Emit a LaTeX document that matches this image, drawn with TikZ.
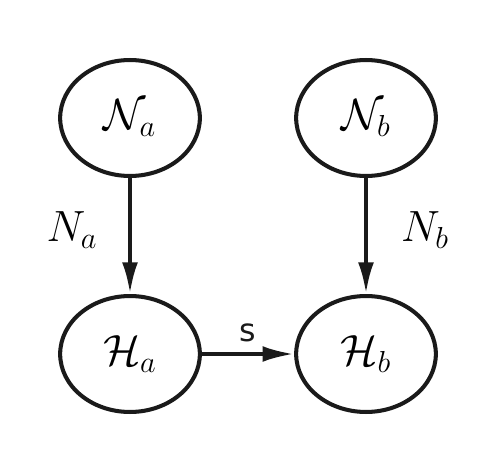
\documentclass[tikz,border=0pt]{standalone}
\usepackage{fontspec}
\usepackage{amsmath}
\usetikzlibrary{arrows.meta}
\usetikzlibrary{shapes.geometric}
\newfontfamily\labelfont{DejaVu Sans}
\definecolor{mygray}{RGB}{26,26,26}

\begin{document}
\begin{tikzpicture}[x=0.02cm,y=-0.02cm,
  state/.style={ellipse, draw=mygray, line width=2.3pt, minimum width=79.5pt, minimum height=66pt, inner sep=0pt, font=\fontsize{25}{30}\selectfont},
  edge/.style={draw=mygray, line width=2.3pt, -{Latex[length=18pt,width=9pt]}},
  lbl/.style={font=\fontsize{25}{30}\selectfont}]
\useasboundingbox (0,0) rectangle (497,473);

% states
\node[state] (Na) at (130,118) {$\mathcal{N}_a$};
\node[state] (Nb) at (366,118) {$\mathcal{N}_b$};
\node[state] (Ha) at (130,354) {$\mathcal{H}_a$};
\node[state] (Hb) at (366,354) {$\mathcal{H}_b$};

% transitions
\draw[edge] (Na) -- (Ha);
\draw[edge] (Nb) -- (Hb);
\draw[edge] (Ha) -- (Hb);

% labels
\node[lbl] (la) at (72,230) {$N_a$};
\node[lbl] (lb) at (425,230) {$N_b$};
\node[font=\labelfont\fontsize{18}{20}\selectfont, text=mygray] (ls) at (248,333) {s};
\end{tikzpicture}
\end{document}
